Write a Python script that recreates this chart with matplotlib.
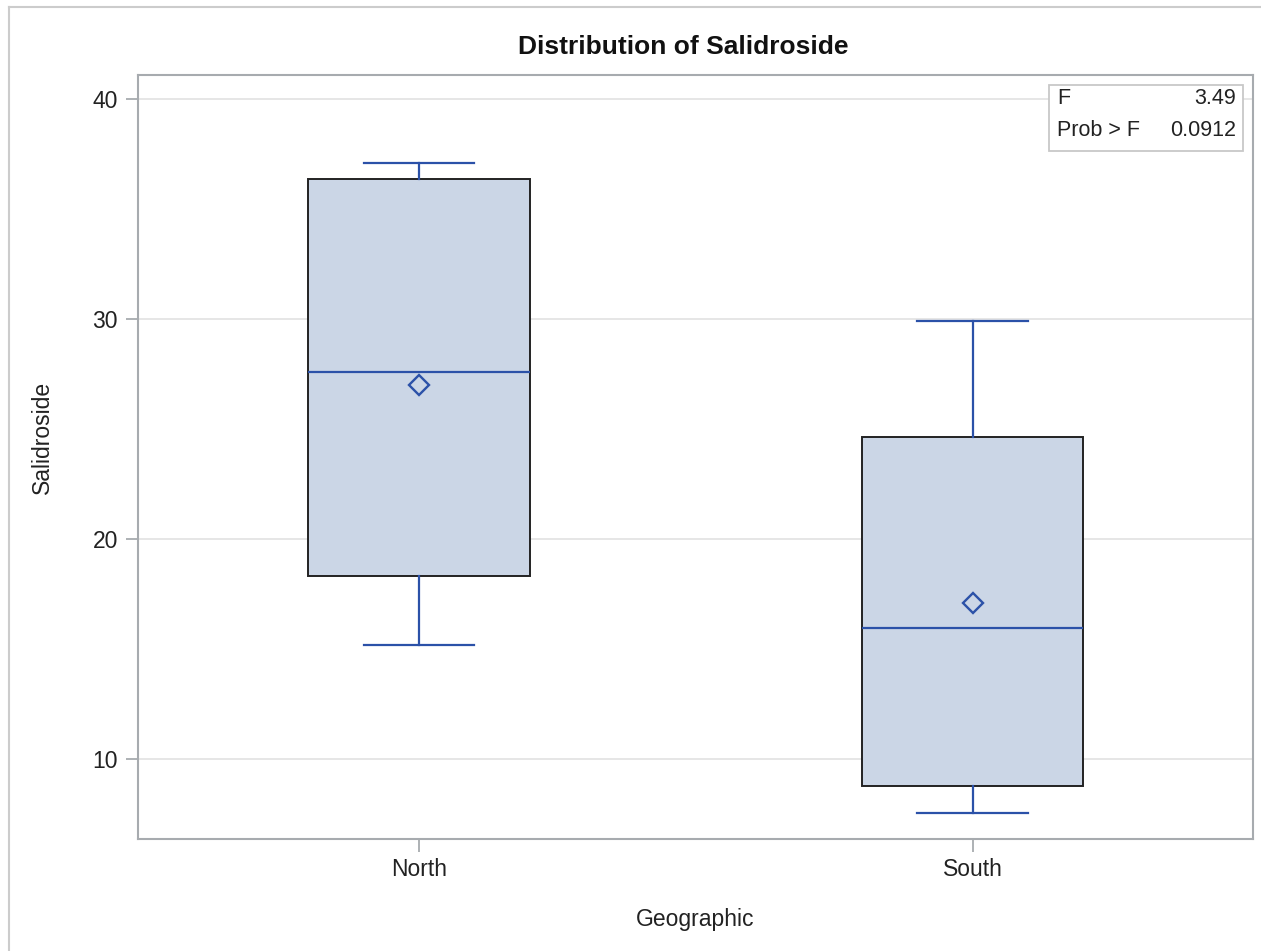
import matplotlib.pyplot as plt
from matplotlib.lines import Line2D
from matplotlib.patches import Rectangle

plt.rcParams['font.family'] = ['Liberation Sans', 'DejaVu Sans']

groups = ['North', 'South']
whislo = [15.2, 7.55]
q1 = [18.3, 8.75]
med = [27.6, 15.95]
q3 = [36.35, 24.65]
whishi = [37.1, 29.9]
means = [27.0, 17.1]
f_value = '3.49'
p_value = '0.0912'

blue = '#2b51a8'
fill = '#cbd6e6'
axis_gray = '#a7abaf'

stats = []
for i in range(len(groups)):
    stats.append({'label': groups[i], 'whislo': whislo[i], 'q1': q1[i], 'med': med[i],
                  'q3': q3[i], 'whishi': whishi[i], 'mean': means[i], 'fliers': []})

fig = plt.figure(figsize=(12.61, 9.51), dpi=100)
ax = fig.add_axes([137.5 / 1261, 1 - 839 / 951, 1115 / 1261, 764 / 951])

ax.bxp(stats, positions=range(len(groups)), widths=0.4, patch_artist=True,
       showmeans=True, showfliers=False,
       boxprops=dict(facecolor=fill, edgecolor='#222222', linewidth=1.4),
       medianprops=dict(color=blue, linewidth=1.6),
       whiskerprops=dict(color=blue, linewidth=1.6),
       capprops=dict(color=blue, linewidth=1.6),
       capwidths=0.2,
       meanprops=dict(marker='D', markerfacecolor='none', markeredgecolor=blue,
                      markersize=10.5, markeredgewidth=1.7))

ax.set_xlim(-0.509, 1.506)
ax.set_ylim(6.36, 41.09)
ax.set_yticks([10, 20, 30, 40])
ax.set_xticks(range(len(groups)))
ax.set_xticklabels(groups)
ax.yaxis.grid(True, color='#e6e6e6', linewidth=1.4)
ax.set_axisbelow(True)
for s in ax.spines.values():
    s.set_color(axis_gray)
    s.set_linewidth(1.5)
ax.tick_params(axis='both', colors=axis_gray, labelcolor='#222222', labelsize=16.5,
               length=9, width=1.3, pad=5)

ax.set_xlabel('Geographic', fontsize=16.5, color='#222222', labelpad=19)
ax.set_ylabel('Salidroside', fontsize=16.5, color='#222222')
ax.yaxis.set_label_coords(-0.075, 0.525)

fig.text(683 / 1261, 1 - 47 / 951, 'Distribution of Salidroside', fontsize=19,
         fontweight='bold', ha='center', va='center', color='#111111')

# inset statistics box
ax.add_patch(Rectangle((0.8175, 0.9005), 0.174, 0.0864, transform=ax.transAxes,
                       facecolor='white', edgecolor='#c8c8c8', linewidth=1.3, zorder=5))
ax.text(0.8247, 0.969, 'F', transform=ax.transAxes, fontsize=15.5, va='center',
        ha='left', color='#222222', zorder=6)
ax.text(0.985, 0.969, f_value, transform=ax.transAxes, fontsize=15.5, va='center',
        ha='right', color='#222222', zorder=6)
ax.text(0.8247, 0.928, 'Prob > F', transform=ax.transAxes, fontsize=15.5, va='center',
        ha='left', color='#222222', zorder=6)
ax.text(0.985, 0.928, p_value, transform=ax.transAxes, fontsize=15.5, va='center',
        ha='right', color='#222222', zorder=6)

# outer frame (left and top edges)
fig.add_artist(Line2D([9 / 1261, 9 / 1261], [0, 1 - 7 / 951], color='#cccccc',
                      linewidth=1.5, transform=fig.transFigure))
fig.add_artist(Line2D([9 / 1261, 1], [1 - 7 / 951, 1 - 7 / 951], color='#cccccc',
                      linewidth=1.5, transform=fig.transFigure))

fig.savefig('out.png', dpi=100)
